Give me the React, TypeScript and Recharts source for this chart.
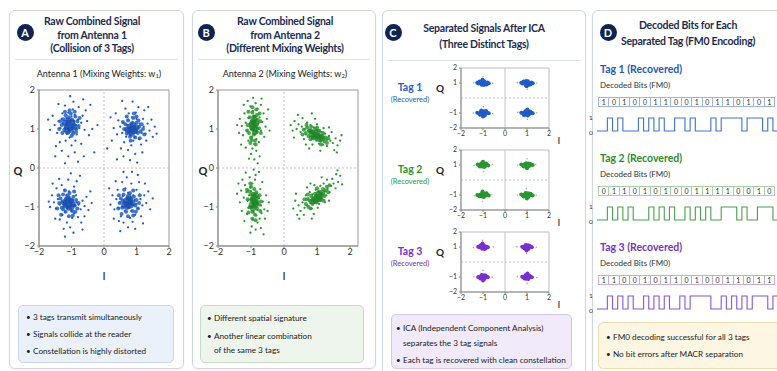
import React from 'react';
import { ScatterChart, Scatter, XAxis, YAxis, ReferenceLine, ReferenceArea, LineChart, Line } from 'recharts';

type P = [number, number];

// ---------- Panel A: Antenna 1 raw points ----------
const A_TL: P[] = [[-1.05,1.10],[-1.12,1.18],[-0.98,1.05],[-1.20,1.02],[-0.92,1.20],[-1.08,0.96],[-1.16,1.28],[-0.86,1.10],[-1.26,1.14],[-1.00,1.32],[-0.94,0.92],[-1.14,0.88],[-1.30,1.26],[-0.80,1.24],[-1.02,1.22],[-1.22,0.94],[-0.90,1.36],[-1.34,1.02],[-0.76,1.02],[-1.10,1.42],[-0.84,0.86],[-1.40,1.20],[-1.06,0.78],[-0.70,1.16],[-1.28,1.40],[-0.96,1.50],[-1.44,0.90],[-0.66,1.34],[-1.18,0.70],[-0.88,0.70],[-1.52,1.10],[-0.60,0.98],[-1.36,0.66],[-0.78,1.56],[-1.20,1.60],[-1.00,0.58],[-1.58,1.34],[-0.52,1.20],[-1.48,0.56],[-0.70,0.62],[-0.94,1.70],[-1.30,0.44],[-0.56,1.48],[-1.66,0.98],[-0.90,0.40],[-1.10,0.30],[-0.62,0.30],[-1.40,1.64],[-0.46,0.84],[-1.72,1.24],[-0.80,0.16],[-1.20,0.12],[-0.42,1.62],[-0.36,1.00],[-1.50,0.30],[-0.64,1.76],[-1.04,1.84],[-0.20,1.10],[-0.30,0.40]];
const A_TR: P[] = [[0.85,1.00],[0.92,1.08],[0.78,0.94],[0.98,0.92],[0.72,1.10],[0.88,1.18],[1.04,1.02],[0.80,0.84],[0.66,0.98],[1.10,1.14],[0.94,0.80],[0.74,1.24],[1.16,0.90],[0.60,1.16],[0.86,1.30],[1.00,1.26],[0.68,0.80],[1.22,1.06],[0.90,0.70],[0.56,0.90],[1.08,0.74],[0.76,1.40],[1.28,0.88],[0.50,1.06],[0.98,1.42],[1.20,1.26],[0.62,0.66],[1.34,1.14],[0.84,0.58],[0.44,1.22],[1.14,0.60],[0.66,1.52],[1.40,0.96],[0.40,0.86],[1.06,1.56],[1.30,0.70],[0.74,0.46],[1.46,1.24],[0.36,1.40],[0.96,0.36],[1.50,0.80],[0.52,0.50],[1.24,1.48],[0.30,1.02],[0.88,1.70],[1.56,1.06],[0.60,0.30],[1.18,0.40],[0.24,0.70],[1.62,0.88],[0.20,1.30],[0.80,0.20],[1.02,0.14],[0.40,0.22],[1.36,1.56],[0.56,1.72],[0.10,0.50]];
const A_BL: P[] = [[-1.10,-0.90],[-1.18,-0.84],[-1.02,-0.96],[-1.24,-0.98],[-0.96,-0.82],[-1.12,-1.04],[-1.30,-0.86],[-0.90,-0.98],[-1.06,-0.74],[-1.20,-1.12],[-0.84,-0.88],[-1.36,-0.94],[-1.00,-1.10],[-1.16,-0.70],[-0.92,-1.16],[-1.42,-0.80],[-0.78,-0.94],[-1.28,-1.20],[-1.08,-0.60],[-0.86,-0.70],[-1.48,-1.04],[-0.72,-1.06],[-1.22,-0.56],[-0.98,-1.28],[-1.54,-0.88],[-0.66,-0.84],[-1.36,-1.32],[-0.80,-1.26],[-1.14,-1.40],[-1.60,-0.70],[-0.60,-0.98],[-1.30,-0.44],[-0.92,-0.48],[-1.66,-1.00],[-0.70,-1.40],[-1.46,-0.52],[-1.04,-1.52],[-0.54,-0.74],[-1.24,-1.56],[-0.84,-0.34],[-1.70,-0.86],[-0.60,-1.24],[-1.50,-1.30],[-1.10,-0.30],[-0.48,-1.08],[-0.94,-1.66],[-1.38,-0.28],[-0.74,-0.20],[-1.58,-0.40],[-1.20,-1.76],[-0.42,-0.60],[-0.66,-1.58],[-1.02,-0.14],[-0.38,-0.90]];
const A_BR: P[] = [[0.75,-0.90],[0.82,-0.84],[0.68,-0.96],[0.88,-0.94],[0.62,-0.86],[0.78,-1.02],[0.94,-0.82],[0.70,-0.76],[0.56,-1.00],[1.00,-0.92],[0.84,-1.10],[0.64,-1.10],[0.90,-0.70],[0.50,-0.88],[1.06,-1.04],[0.74,-0.64],[0.58,-0.72],[1.12,-0.80],[0.96,-1.20],[0.44,-1.02],[0.80,-1.28],[1.18,-0.96],[0.52,-1.24],[0.66,-0.52],[1.00,-0.56],[0.38,-0.80],[1.24,-0.70],[0.88,-1.38],[0.42,-0.56],[1.14,-1.24],[0.60,-1.40],[0.32,-1.06],[1.30,-0.90],[0.84,-0.40],[0.56,-0.36],[1.36,-0.60],[0.74,-1.52],[0.26,-0.70],[1.08,-0.36],[0.46,-1.36],[1.42,-1.06],[0.96,-1.56],[0.20,-0.94],[0.70,-0.24],[1.26,-0.40],[0.36,-0.34],[1.50,-0.78],[0.50,-1.62],[1.04,-0.18],[0.16,-0.52],[0.86,-0.10],[0.30,-1.30],[1.20,-1.42],[0.60,-0.10]];
const A_MID: P[] = [[-1.30,1.10],[-1.25,1.25],[-1.22,0.98],[-1.18,1.35],[-1.15,1.12],[-1.12,0.90],[-1.08,1.30],[-1.05,1.00],[-1.02,1.40],[-0.98,1.24],[-0.95,0.88],[-0.92,1.12],[-0.88,1.32],[-0.85,1.00],[-0.82,1.20],[-0.78,1.08],[-1.35,1.20],[-1.28,0.90],[-1.20,1.44],[-1.00,0.82],[-0.90,1.44],[-0.75,1.28],[-1.38,1.00],[-1.10,1.20],[-0.96,1.06],[-1.16,1.02],[-0.86,0.92],[-1.06,1.48],
  [0.62,1.00],[0.66,1.12],[0.70,0.88],[0.74,1.22],[0.78,1.02],[0.80,0.80],[0.84,1.14],[0.88,0.92],[0.90,1.28],[0.94,1.04],[0.96,0.78],[1.00,1.16],[1.04,0.90],[1.08,1.06],[1.12,0.94],[1.16,1.12],[0.70,1.32],[0.82,0.70],[1.00,1.32],[1.10,0.76],[1.20,1.00],[0.58,1.18],[0.92,1.40],[1.24,0.86],[0.86,1.04],[0.98,0.96],[0.76,0.94],[1.06,1.22],
  [-1.38,-0.90],[-1.34,-0.78],[-1.30,-1.02],[-1.26,-0.68],[-1.22,-0.90],[-1.18,-1.12],[-1.14,-0.78],[-1.10,-1.00],[-1.06,-0.64],[-1.02,-0.88],[-0.98,-1.10],[-0.94,-0.74],[-0.90,-0.96],[-0.86,-0.82],[-0.82,-1.04],[-1.44,-1.04],[-1.20,-0.58],[-1.08,-1.24],[-0.92,-0.60],[-0.78,-0.90],[-1.32,-1.20],[-0.96,-1.22],[-1.40,-0.70],[-1.16,-0.96],[-1.04,-0.80],[-0.88,-1.12],[-1.26,-1.06],[-1.12,-0.70],
  [0.48,-0.90],[0.52,-0.78],[0.56,-1.02],[0.60,-0.68],[0.64,-0.90],[0.68,-1.12],[0.72,-0.78],[0.76,-1.00],[0.80,-0.64],[0.84,-0.88],[0.88,-1.10],[0.92,-0.74],[0.96,-0.96],[1.00,-0.82],[1.04,-1.04],[0.44,-1.04],[0.62,-0.56],[0.74,-1.24],[0.90,-0.58],[1.08,-0.90],[0.54,-1.18],[0.90,-1.22],[0.46,-0.70],[0.70,-0.96],[0.82,-0.80],[0.98,-1.12],[0.58,-0.84],[1.10,-0.70]];
const A_CORE: P[] = [[-1.05,1.10],[-1.15,1.05],[-0.98,1.18],[-1.10,1.22],[-0.92,1.04],[-1.20,1.16],[-1.02,0.98],[-1.12,0.94],[0.85,1.00],[0.95,0.95],[0.78,1.06],[0.90,1.10],[0.80,0.92],[1.00,1.04],[0.86,0.88],[0.72,0.98],[-1.10,-0.90],[-1.18,-0.96],[-1.02,-0.84],[-1.14,-0.80],[-1.00,-1.00],[-1.24,-0.88],[-1.08,-1.02],[-0.96,-0.92],[0.75,-0.90],[0.82,-0.96],[0.68,-0.84],[0.80,-0.80],[0.88,-0.90],[0.70,-1.00],[0.76,-0.74],[0.62,-0.94]];

// ---------- Panel B: Antenna 2 raw points ----------
const B_TL: P[] = [[-0.90,1.10],[-0.86,1.22],[-0.96,0.98],[-0.82,1.02],[-1.00,1.20],[-0.92,1.34],[-0.88,0.86],[-0.78,1.14],[-1.04,1.06],[-0.94,1.46],[-0.84,0.74],[-1.08,1.28],[-0.74,1.30],[-0.98,0.80],[-0.80,1.52],[-1.12,0.94],[-0.70,0.96],[-0.90,0.62],[-1.02,1.58],[-0.66,1.18],[-1.16,1.16],[-0.86,1.66],[-0.76,0.66],[-1.08,0.70],[-0.62,1.40],[-1.20,1.40],[-0.96,0.50],[-0.70,1.62],[-1.24,0.84],[-0.84,0.44],[-1.10,1.72],[-0.56,1.06],[-1.28,1.08],[-0.60,0.80],[-1.00,0.36],[-0.94,1.80],[-1.34,1.26],[-0.52,1.26],[-1.16,0.52],[-0.74,0.30],[-1.36,0.90],[-0.48,1.50],[-1.22,1.62],[-0.68,1.78],[-0.90,0.22],[-1.42,1.10],[-0.44,0.96],[-1.06,0.24],[-0.80,0.12],[-1.30,0.60]];
const B_TR: P[] = [[0.95,0.85],[1.08,0.82],[0.82,0.90],[1.00,0.96],[0.88,0.76],[1.20,0.78],[0.72,0.96],[1.12,0.92],[0.78,0.80],[1.30,0.72],[0.62,1.00],[0.98,0.70],[0.90,1.04],[1.24,0.88],[0.66,0.86],[1.40,0.70],[0.54,1.06],[1.06,0.62],[0.80,1.10],[1.36,0.82],[0.50,0.92],[1.18,0.60],[0.70,1.16],[1.48,0.64],[0.44,1.12],[1.00,1.12],[1.30,0.56],[0.60,0.74],[1.56,0.76],[0.38,1.00],[0.86,0.60],[1.44,0.92],[0.32,1.20],[1.62,0.58],[0.56,1.28],[1.20,1.02],[0.76,0.50],[1.70,0.70],[0.26,0.96],[1.10,0.44],[0.42,1.36],[1.52,0.46],[0.94,1.26],[1.74,0.84],[0.20,1.10],[1.36,1.04],[0.66,0.60],[1.60,0.40],[0.30,0.78],[0.84,1.40]];
const B_BL: P[] = [[-0.90,-0.85],[-0.94,-0.72],[-0.86,-0.98],[-0.98,-0.80],[-0.82,-0.90],[-1.00,-0.60],[-0.80,-1.08],[-0.92,-1.14],[-1.06,-0.70],[-0.76,-0.78],[-1.02,-0.50],[-0.84,-1.22],[-1.10,-0.84],[-0.70,-0.96],[-0.96,-0.40],[-0.74,-1.30],[-1.14,-0.62],[-0.88,-0.30],[-0.68,-1.16],[-1.08,-1.02],[-1.18,-0.44],[-0.64,-0.86],[-0.80,-1.40],[-1.04,-0.24],[-0.94,-1.32],[-1.22,-0.76],[-0.60,-1.06],[-0.86,-0.18],[-1.12,-1.18],[-0.72,-0.54],[-1.26,-0.30],[-0.58,-1.30],[-0.98,-1.50],[-1.30,-0.58],[-0.66,-0.36],[-1.16,-0.12],[-0.54,-0.70],[-0.86,-1.58],[-1.34,-0.88],[-0.76,-0.10],[-1.20,-1.36],[-0.50,-1.10],[-1.38,-0.40],[-0.92,-0.04],[-0.70,-1.54],[-1.28,-1.10],[-0.46,-0.88],[-1.02,-1.66],[-1.42,-0.66],[-0.62,-1.70]];
const B_BR: P[] = [[1.00,-0.75],[1.12,-0.70],[0.88,-0.82],[1.04,-0.62],[0.94,-0.88],[1.22,-0.60],[0.80,-0.90],[1.16,-0.80],[0.86,-0.68],[1.32,-0.54],[0.70,-0.96],[1.06,-0.92],[0.96,-0.56],[1.28,-0.70],[0.74,-0.78],[1.42,-0.46],[0.62,-1.02],[1.10,-0.46],[0.84,-1.04],[1.38,-0.62],[0.56,-0.88],[1.20,-0.40],[0.78,-0.62],[1.50,-0.40],[0.50,-1.10],[1.02,-1.02],[1.30,-0.30],[0.66,-0.70],[1.56,-0.52],[0.44,-0.96],[0.92,-0.44],[1.46,-0.28],[0.40,-1.20],[1.64,-0.36],[0.60,-1.20],[1.24,-0.88],[0.80,-0.40],[1.70,-0.20],[0.34,-0.84],[1.14,-0.24],[0.46,-1.30],[1.58,-0.16],[0.90,-1.18],[1.76,-0.42],[0.28,-1.04],[1.36,-0.84],[0.70,-0.50],[1.62,-0.06],[0.36,-0.66],[0.84,-1.30]];
const B_MID: P[] = [[-1.10,1.10],[-1.06,0.90],[-1.04,1.30],[-1.00,0.78],[-0.98,1.00],[-0.96,1.42],[-0.94,1.18],[-0.92,0.86],[-0.90,1.32],[-0.88,0.70],[-0.86,1.08],[-0.84,1.50],[-0.82,0.92],[-0.80,1.24],[-0.76,1.02],[-0.72,1.20],[-1.08,1.44],[-1.02,0.64],[-0.96,1.56],[-0.86,0.60],[-0.74,1.40],[-1.12,0.96],[-0.70,0.90],[-0.94,0.98],[-0.88,1.20],[-1.00,1.14],[-0.82,1.36],[-0.98,0.72],
  [0.60,0.98],[0.66,0.90],[0.70,1.04],[0.74,0.82],[0.78,0.96],[0.82,1.06],[0.86,0.80],[0.90,0.92],[0.94,1.00],[0.98,0.76],[1.02,0.86],[1.06,0.96],[1.10,0.70],[1.14,0.80],[1.18,0.90],[1.22,0.68],[1.26,0.78],[1.30,0.64],[0.68,1.10],[0.80,0.74],[1.00,1.04],[1.12,0.60],[1.34,0.76],[0.56,0.86],[0.92,0.84],[1.04,0.78],[0.84,0.92],[1.20,0.74],
  [-1.10,-0.80],[-1.06,-0.60],[-1.04,-1.00],[-1.00,-0.48],[-0.98,-0.80],[-0.96,-1.12],[-0.94,-0.66],[-0.92,-0.96],[-0.90,-0.54],[-0.88,-1.20],[-0.86,-0.84],[-0.84,-0.62],[-0.82,-1.04],[-0.80,-0.76],[-0.76,-0.94],[-0.72,-1.10],[-1.08,-1.14],[-1.02,-0.40],[-0.96,-1.30],[-0.86,-1.34],[-0.74,-0.70],[-1.12,-0.56],[-0.70,-0.86],[-0.94,-0.90],[-0.88,-0.72],[-1.00,-0.68],[-0.82,-0.90],[-0.98,-1.00],
  [0.66,-0.92],[0.70,-0.80],[0.74,-1.00],[0.78,-0.84],[0.82,-0.72],[0.86,-0.92],[0.90,-0.78],[0.94,-0.66],[0.98,-0.86],[1.02,-0.72],[1.06,-0.60],[1.10,-0.82],[1.14,-0.66],[1.18,-0.54],[1.22,-0.72],[1.26,-0.58],[1.30,-0.48],[1.34,-0.62],[0.62,-0.80],[0.80,-1.04],[1.00,-0.52],[1.20,-0.84],[1.38,-0.44],[0.72,-0.68],[0.92,-0.82],[1.04,-0.80],[1.12,-0.72],[0.96,-0.74]];
const B_CORE: P[] = [[-0.90,1.10],[-0.86,1.00],[-0.94,1.20],[-0.84,1.14],[-0.96,1.04],[-0.90,1.28],[-0.88,0.92],[-0.98,1.12],[0.95,0.85],[1.05,0.82],[0.85,0.88],[1.00,0.92],[0.90,0.78],[1.14,0.80],[0.80,0.94],[1.08,0.74],[-0.90,-0.85],[-0.92,-0.74],[-0.88,-0.96],[-0.96,-0.82],[-0.84,-0.88],[-0.94,-1.04],[-0.86,-0.70],[-0.98,-0.94],[1.00,-0.75],[1.10,-0.72],[0.90,-0.80],[1.04,-0.66],[0.96,-0.86],[1.16,-0.64],[0.86,-0.86],[1.06,-0.80]];

// ---------- Panel C: separated tags ----------
const C_TAG1: P[] = [[-1.00,1.00],[-1.12,1.04],[-0.88,0.96],[-1.06,0.88],[-0.94,1.12],[-1.20,0.96],[-0.80,1.04],[-1.04,1.14],[-0.96,0.86],[-1.16,1.10],[-0.84,0.90],[-1.26,1.02],[-0.74,0.98],[-1.02,1.22],[1.00,1.00],[1.12,0.96],[0.88,1.04],[1.04,1.12],[0.94,0.88],[1.20,1.04],[0.80,0.96],[1.06,0.86],[0.96,1.14],[1.16,0.90],[0.84,1.10],[1.26,0.98],[0.74,1.02],[0.98,0.78],[-1.00,-1.00],[-1.10,-0.94],[-0.90,-1.06],[-1.04,-1.12],[-0.96,-0.88],[-1.18,-1.04],[-0.82,-0.96],[-1.08,-0.84],[-0.92,-1.16],[-1.14,-1.12],[-0.86,-0.86],[-1.26,-0.98],[-0.74,-1.02],[-1.00,-1.24],[1.00,-1.00],[1.10,-1.06],[0.90,-0.94],[1.06,-0.88],[0.94,-1.12],[1.18,-0.96],[0.82,-1.04],[1.04,-1.16],[0.96,-0.84],[1.14,-0.90],[0.86,-1.14],[1.26,-1.02],[0.74,-0.98],[1.02,-0.76]];
const C_TAG2: P[] = [[-1.00,1.00],[-1.10,1.06],[-0.90,0.94],[-1.04,0.90],[-0.96,1.10],[-1.18,0.98],[-0.82,1.02],[-1.06,1.12],[-0.94,0.86],[-1.14,0.90],[-0.86,1.10],[-1.24,1.04],[-0.76,0.96],[-1.00,1.22],[1.00,1.00],[1.10,0.94],[0.90,1.06],[1.06,1.10],[0.94,0.90],[1.18,1.02],[0.82,0.98],[1.04,0.88],[0.96,1.12],[1.14,1.08],[0.86,0.90],[1.26,1.00],[0.74,1.04],[1.00,0.78],[-1.00,-1.00],[-1.12,-0.96],[-0.88,-1.04],[-1.06,-1.10],[-0.94,-0.90],[-1.20,-1.02],[-0.80,-0.98],[-1.04,-0.86],[-0.96,-1.14],[-1.16,-1.08],[-0.84,-0.88],[-1.26,-1.00],[-0.74,-1.04],[-1.02,-0.76],[1.00,-1.00],[1.12,-1.04],[0.88,-0.96],[1.04,-0.88],[0.96,-1.12],[1.20,-0.98],[0.80,-1.02],[1.06,-1.14],[0.94,-0.86],[1.16,-0.92],[0.84,-1.10],[1.26,-1.04],[0.74,-0.96],[1.00,-1.24]];
const C_TAG3: P[] = [[-1.00,1.00],[-1.08,1.06],[-0.92,0.94],[-1.04,0.88],[-0.96,1.12],[-1.16,0.98],[-0.84,1.02],[-1.06,1.14],[-0.94,0.86],[-1.12,1.10],[-0.88,0.90],[-1.22,1.02],[-0.78,0.98],[-1.02,1.24],[1.00,1.00],[1.08,0.94],[0.92,1.06],[1.04,1.12],[0.96,0.88],[1.16,1.02],[0.84,0.98],[1.06,0.86],[0.94,1.14],[1.12,1.08],[0.88,0.90],[1.22,0.98],[0.78,1.02],[0.98,0.76],[-1.00,-1.00],[-1.08,-0.94],[-0.92,-1.06],[-1.04,-1.12],[-0.96,-0.88],[-1.16,-1.02],[-0.84,-0.98],[-1.06,-0.86],[-0.94,-1.14],[-1.12,-1.10],[-0.88,-0.90],[-1.22,-1.00],[-0.78,-1.02],[-1.00,-1.24],[1.00,-1.00],[1.08,-1.06],[0.92,-0.94],[1.04,-0.88],[0.96,-1.12],[1.16,-0.98],[0.84,-1.02],[1.06,-1.14],[0.94,-0.86],[1.12,-0.92],[0.88,-1.10],[1.22,-1.02],[0.78,-0.98],[1.02,-0.76]];
const C_HALO1: P[] = [[-1.42,1.02],[-0.56,0.98],[-1.00,1.42],[1.44,1.00],[0.56,1.04],[1.02,0.58],[-1.44,-1.00],[-0.56,-1.04],[1.44,-0.98],[0.58,-0.96],[1.02,-1.42],[-0.98,-0.58]];
const C_HALO2: P[] = [[-1.40,0.98],[-0.58,1.04],[-0.98,0.56],[1.40,1.04],[0.58,0.98],[1.00,1.42],[-1.40,-1.04],[-0.60,-0.98],[1.42,-1.02],[0.56,-1.00],[0.98,-0.56],[-1.02,-1.42]];
const C_HALO3: P[] = [[-1.44,0.96],[-0.54,1.02],[-1.02,1.44],[1.42,0.98],[0.54,1.02],[0.98,0.56],[-1.42,-0.98],[-0.58,-1.02],[1.44,-1.04],[0.56,-0.98],[1.00,-1.44],[-1.00,-0.56]];

// ---------- Panel D: decoded bits & FM0 waveforms (half-bit levels) ----------
const BITS_TAG1 = [1,0,1,0,0,1,1,0,0,1,0,1,1,0,1,0,1];
const BITS_TAG2 = [0,1,1,0,1,0,1,0,0,1,1,1,1,0,0,1,0];
const BITS_TAG3 = [1,1,0,0,1,0,1,1,0,1,0,0,1,1,0,1,1];
const WAVE_TAG1 = [0,0,1,0,1,0,0,0,1,0,1,0,1,0,0,1,1,0,1,0,0,0,1,0,1,1,1,1,0,1,1,1,0,1,0,1,0];
const WAVE_TAG2 = [0,0,1,0,1,0,1,0,0,0,1,0,1,0,1,0,0,1,0,1,0,1,0,0,1,1,1,0,1,0,0,1,1,1,0,1,0];
const WAVE_TAG3 = [0,0,1,0,1,0,1,0,0,1,0,1,0,1,0,0,1,0,1,1,1,1,0,0,1,0,1,0,1,0,1,1,1,0,1,0,1];

const AXIS_TICKS = [-2, -1, 0, 1, 2];
const C_Y_TICKS = [-2, -1, 1, 2];

const FONT = 'Lato, "Open Sans", sans-serif';
const NAVY = '#1c2b50';
const BLUE = '#1f5cc8';
const GREEN = '#2a9630';
const PURPLE = '#7a2fd0';

const pts = (a: P[]) => a.map(([x, y]) => ({ x, y }));
const fmt = (v: number) => (v < 0 ? '\u2212' + Math.abs(v) : String(v));

type Series = { data: P[]; color: string; r: number; op?: number };

function Constellation(props: {
  px: number; py: number; pw: number; ph: number; xMax?: number; yTicks: number[];
  series: Series[]; fs: number; zeroXSolid?: boolean; frame: string;
}) {
  const { px, py, pw, ph, xMax = 2, yTicks, series, fs, zeroXSolid, frame } = props;
  const yw = 18, xh = 16, mt = 6, mr = 6;
  return (
    <div style={{ position: 'absolute', left: px - yw, top: py - mt }}>
      <ScatterChart width={yw + pw + mr} height={mt + ph + xh} margin={{ top: mt, right: mr, bottom: 0, left: 0 }}>
        <XAxis type="number" dataKey="x" domain={[-2, xMax]} ticks={AXIS_TICKS} interval={0} allowDataOverflow
          tick={{ fontSize: fs, fill: '#333', fontFamily: FONT }} tickSize={2} tickMargin={1} tickFormatter={fmt}
          stroke="#8a8a8a" height={xh} />
        <YAxis type="number" dataKey="y" domain={[-2, 2]} ticks={yTicks} interval={0} allowDataOverflow
          tick={{ fontSize: fs, fill: '#333', fontFamily: FONT }} tickSize={2} tickMargin={2} tickFormatter={fmt}
          stroke="#8a8a8a" width={yw} />
        <ReferenceArea x1={-2} x2={xMax} y1={-2} y2={2} fill="none" stroke={frame} strokeWidth={1} />
        <ReferenceLine x={0} stroke="#b5b5b5" strokeWidth={0.8} strokeDasharray={zeroXSolid ? undefined : '2 2'} />
        <ReferenceLine y={0} stroke="#b5b5b5" strokeWidth={0.8} strokeDasharray="2 2" />
        {series.map((s, i) => (
          <Scatter key={i} data={pts(s.data)} isAnimationActive={false}
            shape={(p: any) => <circle cx={p.cx} cy={p.cy} r={s.r} fill={s.color} fillOpacity={s.op ?? 1} />} />
        ))}
      </ScatterChart>
    </div>
  );
}

function T(props: { x: number; y: number; s: number; w?: number; c?: string; a?: 'l' | 'c'; children: React.ReactNode; ls?: number }) {
  const { x, y, s, w = 400, c = '#222', a = 'c', children, ls = 0 } = props;
  return (
    <div style={{
      position: 'absolute', left: x, top: y, transform: a === 'c' ? 'translate(-50%,-50%)' : 'translate(0,-50%)',
      fontSize: s, fontWeight: w, color: c, whiteSpace: 'nowrap', lineHeight: 1, letterSpacing: ls, fontFamily: FONT,
    }}>{children}</div>
  );
}

function Panel({ x, y, w, h }: { x: number; y: number; w: number; h: number }) {
  return <div style={{ position: 'absolute', left: x, top: y, width: w, height: h, border: '1px solid #cfd7e2', borderRadius: 6, background: '#fff', boxSizing: 'border-box', boxShadow: '0 1px 2px rgba(0,0,0,0.06)' }} />;
}

function Badge({ x, y, l }: { x: number; y: number; l: string }) {
  return (
    <div style={{ position: 'absolute', left: x - 8.5, top: y - 8.5, width: 17, height: 17, borderRadius: '50%', background: '#0e2452', color: '#fff', fontFamily: FONT, fontWeight: 700, fontSize: 11, display: 'flex', alignItems: 'center', justifyContent: 'center' }}>{l}</div>
  );
}

function Box({ x, y, w, h, bg, bd }: { x: number; y: number; w: number; h: number; bg: string; bd: string }) {
  return <div style={{ position: 'absolute', left: x, top: y, width: w, height: h, background: bg, border: `1px solid ${bd}`, borderRadius: 5, boxSizing: 'border-box' }} />;
}

function Sep({ x, y, w }: { x: number; y: number; w: number }) {
  return <div style={{ position: 'absolute', left: x, top: y, width: w, height: 1, background: '#dde2ea' }} />;
}

const CELL = 10.35;
function Bits({ x, y, bits, bd }: { x: number; y: number; bits: number[]; bd: string }) {
  return (
    <div style={{ position: 'absolute', left: x, top: y, width: bits.length * CELL + 1, height: 10, borderTop: `1px solid ${bd}`, borderBottom: `1px solid ${bd}`, borderRight: `1px solid ${bd}`, boxSizing: 'border-box' }}>
      {bits.map((b, i) => (
        <div key={i} style={{ position: 'absolute', left: i * CELL, top: -1, width: CELL, height: 10, borderLeft: `1px solid ${bd}`, boxSizing: 'border-box', fontSize: 7, fontFamily: FONT, color: '#333', display: 'flex', alignItems: 'center', justifyContent: 'center' }}>{b}</div>
      ))}
    </div>
  );
}

function Wave({ x, yHigh, yLow, levels, color }: { x: number; yHigh: number; yLow: number; levels: number[]; color: string }) {
  const data = levels.map((v, i) => ({ i, v })).concat([{ i: levels.length, v: levels[levels.length - 1] }]);
  const w = levels.length * (CELL / 2);
  return (
    <div style={{ position: 'absolute', left: x, top: yHigh - 2 }}>
      <LineChart width={w} height={yLow - yHigh + 4} data={data} margin={{ top: 2, right: 0, bottom: 2, left: 0 }}>
        <XAxis dataKey="i" type="number" domain={[0, levels.length]} hide />
        <YAxis domain={[0, 1]} hide />
        <Line type="stepAfter" dataKey="v" stroke={color} strokeWidth={1.1} dot={false} isAnimationActive={false} />
      </LineChart>
    </div>
  );
}

function Sub({ children }: { children: React.ReactNode }) {
  return <span style={{ fontSize: '0.65em', verticalAlign: '-0.25em' }}>{children}</span>;
}

export default function App() {
  const bullet = (x: number, y: number, text: React.ReactNode, noDot?: boolean) => (
    <>
      {!noDot && <T x={x} y={y} s={8} a="l">•</T>}
      <T x={x + 7} y={y} s={8.2} a="l" c="#222">{text}</T>
    </>
  );
  const tagBlock = (dy: number, label: string, color: string, wave: string, bits: number[], levels: number[], bd: string) => (
    <>
      <T x={600} y={69 + dy} s={10.5} w={700} c={color} a="l">{label}</T>
      <T x={600} y={85 + dy} s={8} a="l" c="#333">Decoded Bits (FM0)</T>
      <Bits x={598} y={97 + dy} bits={bits} bd={bd} />
      <T x={591} y={118 + dy} s={6.5} a="c" c="#333">1</T>
      <T x={591} y={133 + dy} s={6.5} a="c" c="#333">0</T>
      <Wave x={597} yHigh={118 + dy} yLow={131 + dy} levels={levels} color={wave} />
    </>
  );
  const cTag = (py: number, n: string, color: string, data: P[], halo: P[]) => (
    <>
      <T x={410} y={py + 19} s={10.5} w={700} c={color}>{n}</T>
      <T x={410} y={py + 32} s={7.5} c={color}>(Recovered)</T>
      <T x={440} y={py + 20} s={10} w={700} c="#222">Q</T>
      <T x={559} y={py + 72} s={10} w={400} c="#222">I</T>
      <Constellation px={461} py={py} pw={88} ph={60} yTicks={C_Y_TICKS} fs={7} zeroXSolid frame="#bdbdbd"
        series={[{ data: halo, color, r: 0.8, op: 0.5 }, { data, color, r: 2.0 }]} />
    </>
  );
  return (
    <div style={{ position: 'absolute', left: 0, top: 0, width: 777, height: 371, overflow: 'hidden', background: '#fff', fontFamily: FONT }}>
      <Panel x={9} y={10} w={175} h={359} />
      <Panel x={192} y={10} w={184} h={359} />
      <Panel x={382} y={10} w={204} h={370} />
      <Panel x={592} y={10} w={210} h={370} />

      {/* Panel A */}
      <Badge x={25} y={32} l="A" />
      <T x={92} y={21} s={10.5} w={700} c={NAVY} ls={-0.25}>Raw Combined Signal</T>
      <T x={92} y={35} s={10.5} w={700} c={NAVY} ls={-0.25}>from Antenna 1</T>
      <T x={92} y={48} s={10.5} w={700} c={NAVY} ls={-0.25}>(Collision of 3 Tags)</T>
      <Sep x={15} y={59} w={163} />
      <T x={99} y={74} s={9} c="#222">Antenna 1 (Mixing Weights: w<Sub>1</Sub>)</T>
      <T x={18} y={170} s={11} w={700} c="#222">Q</T>
      <T x={104} y={275} s={11} w={400} c="#222">I</T>
      <Constellation px={39} py={90} pw={130} ph={156} yTicks={AXIS_TICKS} fs={9} frame="#9a9a9a"
        series={[{ data: A_TL, color: BLUE, r: 1.15 }, { data: A_TR, color: BLUE, r: 1.15 }, { data: A_BL, color: BLUE, r: 1.15 }, { data: A_BR, color: BLUE, r: 1.15 }, { data: A_MID, color: BLUE, r: 2.0, op: 0.85 }, { data: A_CORE, color: '#1a4fb0', r: 3.0, op: 0.8 }]} />
      <Box x={18} y={305} w={156} h={58} bg="#eaf1fb" bd="#c9d6ea" />
      {bullet(26, 317, '3 tags transmit simultaneously')}
      {bullet(26, 334, 'Signals collide at the reader')}
      {bullet(26, 351, 'Constellation is highly distorted')}

      {/* Panel B */}
      <Badge x={206} y={32} l="B" />
      <T x={285} y={21} s={10.5} w={700} c={NAVY} ls={-0.25}>Raw Combined Signal</T>
      <T x={285} y={35} s={10.5} w={700} c={NAVY} ls={-0.25}>from Antenna 2</T>
      <T x={285} y={48} s={10.5} w={700} c={NAVY} ls={-0.25}>(Different Mixing Weights)</T>
      <Sep x={198} y={59} w={172} />
      <T x={285} y={74} s={9} c="#222">Antenna 2 (Mixing Weights: w<Sub>2</Sub>)</T>
      <T x={203} y={170} s={11} w={700} c="#222">Q</T>
      <T x={284} y={275} s={11} w={400} c="#222">I</T>
      <Constellation px={218} py={90} pw={140} ph={156} xMax={2.24} yTicks={AXIS_TICKS} fs={9} frame="#9a9a9a"
        series={[{ data: B_TL, color: GREEN, r: 1.15 }, { data: B_TR, color: GREEN, r: 1.15 }, { data: B_BL, color: GREEN, r: 1.15 }, { data: B_BR, color: GREEN, r: 1.15 }, { data: B_MID, color: GREEN, r: 2.0, op: 0.85 }, { data: B_CORE, color: '#23862a', r: 3.0, op: 0.75 }]} />
      <Box x={200} y={305} w={164} h={58} bg="#eef5ec" bd="#c8dbc4" />
      {bullet(207, 318, 'Different spatial signature')}
      {bullet(207, 336, 'Another linear combination')}
      {bullet(207, 350, 'of the same 3 tags', true)}

      {/* Panel C */}
      <Badge x={393} y={32} l="C" />
      <T x={484} y={28} s={10.5} w={700} c={NAVY} ls={-0.25}>Separated Signals After ICA</T>
      <T x={484} y={44} s={10.5} w={700} c={NAVY} ls={-0.25}>(Three Distinct Tags)</T>
      <Sep x={388} y={60} w={192} />
      {cTag(68, 'Tag 1', BLUE, C_TAG1, C_HALO1)}
      {cTag(150, 'Tag 2', GREEN, C_TAG2, C_HALO2)}
      {cTag(232, 'Tag 3', PURPLE, C_TAG3, C_HALO3)}
      <Box x={391} y={314} w={181} h={55} bg="#f1eafa" bd="#d6c8ec" />
      {bullet(396, 328, 'ICA (Independent Component Analysis)')}
      {bullet(396, 343, 'separates the 3 tag signals', true)}
      {bullet(396, 360, 'Each tag is recovered with clean constellation')}

      {/* Panel D */}
      <Badge x={608} y={32} l="D" />
      <T x={688} y={25} s={10.5} w={700} c={NAVY} ls={-0.25}>Decoded Bits for Each</T>
      <T x={688} y={41} s={10.5} w={700} c={NAVY} ls={-0.25}>Separated Tag (FM0 Encoding)</T>
      {tagBlock(0, 'Tag 1 (Recovered)', '#2458c0', '#3c72d4', BITS_TAG1, WAVE_TAG1, '#9fb4dc')}
      {tagBlock(89, 'Tag 2 (Recovered)', '#2e8a30', '#49a04a', BITS_TAG2, WAVE_TAG2, '#a9cfa6')}
      {tagBlock(178, 'Tag 3 (Recovered)', '#7434c4', '#8a55d2', BITS_TAG3, WAVE_TAG3, '#c2aae4')}
      <Box x={598} y={322} w={200} h={47} bg="#fdf6e3" bd="#ecdcb2" />
      {bullet(606, 337, 'FM0 decoding successful for all 3 tags')}
      {bullet(606, 354, 'No bit errors after MACR separation')}
    </div>
  );
}
